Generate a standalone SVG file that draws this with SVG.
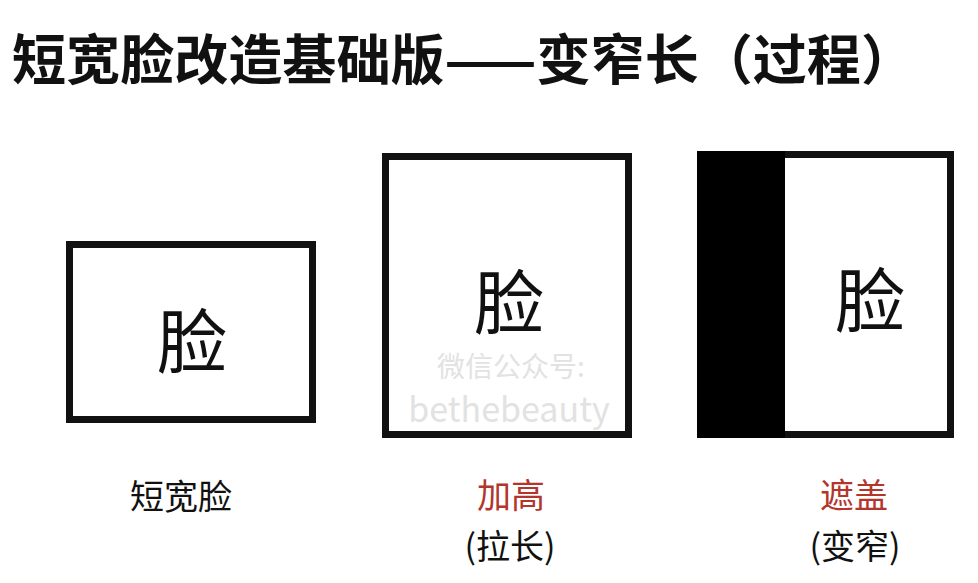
<svg xmlns="http://www.w3.org/2000/svg" width="978" height="583" viewBox="0 0 978 583">
<style>
.box{fill:#fff;stroke:#111;stroke-width:7;}
.face{font-family:"Noto Sans CJK SC","Noto Sans",sans-serif;font-size:70px;fill:#111;text-anchor:middle;}
.lbl{font-family:"Noto Sans CJK SC","Noto Sans",sans-serif;font-size:34px;text-anchor:middle;fill:#111;}
.red{fill:#b2362c;}
.wm{font-family:"Noto Sans CJK SC","Noto Sans",sans-serif;fill:#e2e2e2;text-anchor:middle;}
</style>
<rect width="978" height="583" fill="#fff"/>
<g id="title">
<text x="12" y="80" font-family="'Noto Sans CJK SC','Noto Sans',sans-serif" font-size="54" font-weight="bold" fill="#111" textLength="903" lengthAdjust="spacingAndGlyphs">短宽脸改造基础版——变窄长（过程）</text>
</g>
<g id="node-short-wide">
<rect class="box" x="69.5" y="244.5" width="243" height="175"/>
<text class="face" x="192" y="368">脸</text>
<text class="lbl" x="181" y="509">短宽脸</text>
</g>
<g id="node-heighten">
<rect class="box" x="385.5" y="156.5" width="243" height="278"/>
<text class="face" x="509" y="329">脸</text>
<text class="wm" x="511" y="377" font-size="28">微信公众号:</text>
<text class="wm" x="509" y="422" font-size="34">bethebeauty</text>
<text class="lbl red" x="511" y="508">加高</text>
<text class="lbl" x="510" y="559">(拉长)</text>
</g>
<g id="node-cover">
<rect class="box" x="700.5" y="154.5" width="250" height="280"/>
<rect x="697" y="151" width="88" height="287" fill="#000"/>
<text class="face" x="870" y="327">脸</text>
<text class="lbl red" x="854" y="508">遮盖</text>
<text class="lbl" x="855" y="559">(变窄)</text>
</g>
</svg>
